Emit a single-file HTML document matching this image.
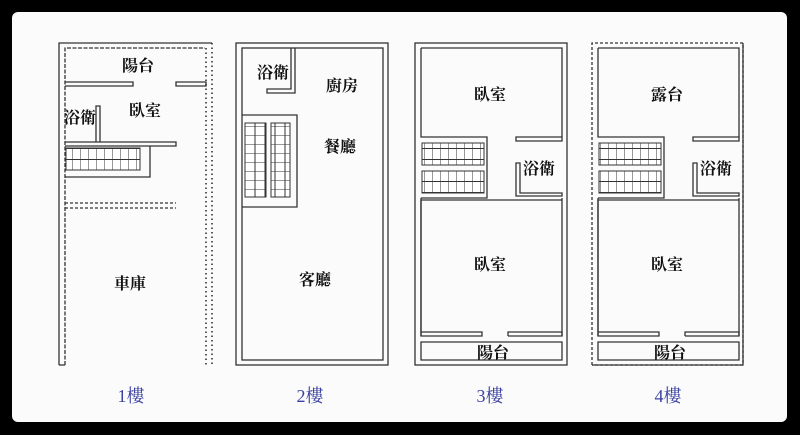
<!DOCTYPE html>
<html><head><meta charset="utf-8"><style>
html,body{margin:0;padding:0;background:#000;}
body{width:800px;height:435px;overflow:hidden;position:relative;}
svg{position:absolute;left:0;top:0}
text{font-family:"Liberation Serif","Noto Serif CJK SC","Noto Sans CJK TC",serif;font-size:16px;font-weight:bold;fill:#111;text-anchor:middle;}
.fl{fill:#3b41a0;font-size:18px;font-weight:normal}
</style></head><body>
<svg width="800" height="435" viewBox="0 0 800 435">
<defs>
<pattern id="sh" width="8" height="11" patternUnits="userSpaceOnUse"><rect width="8" height="11" fill="#fff"/><path d="M0 0V11M0 5.5H8" stroke="#333" stroke-width="1"/></pattern>
<pattern id="sv" width="10" height="9" patternUnits="userSpaceOnUse"><rect width="10" height="9" fill="#fff"/><path d="M0 0H10M5 0V9" stroke="#333" stroke-width="1"/></pattern>
</defs>
<rect x="12" y="12" width="775" height="410" rx="6" fill="#fbfbfb"/>
<g fill="none" stroke="#333" stroke-width="1.3">
<!-- Plan 1 -->
<path d="M59 365V43H212" />
<path d="M59 365H65" />
<path d="M65 365V48H205" stroke-dasharray="4 1.5"/>
<path d="M206 48V365M212 43V365" stroke-dasharray="1.5 3" stroke-width="1.6"/>
<path d="M65 82H133V86H65M176 82H206V86H176Z"/>
<path d="M96 142V106H100V142"/>
<path d="M65 142H176V146H65"/>
<path d="M150 146V177H65"/>
<path d="M65 203H176M65 208H176" stroke-dasharray="3 2"/>
<!-- Plan 2 -->
<rect x="236" y="43" width="152" height="322"/>
<rect x="242" y="48" width="141" height="312"/>
<path d="M295 48V93H267V89H291V48"/>
<path d="M242 115H297V207H242"/>
<!-- Plan 3 -->
<rect x="415" y="43" width="152" height="322"/>
<path d="M421 48H562V137M421 48V137H487V198H421M562 198V336M421 198V336"/>
<path d="M516 137H562V141H516Z"/>
<path d="M520 193V163H516V196H562V193Z"/>
<path d="M421 200H562M421 200V336H482V332H421M508 336H562V332H508V336"/>
<path d="M421 342H562V360H421Z"/>
<!-- Plan 4 -->
<path d="M592 365V43H743V365H592" stroke-dasharray="3 2"/>
<path d="M743 43V365H592"/>
<path d="M598 48H739V137M598 48V137H664V198H598M739 198V336M598 198V336" />
<path d="M693 137H739V141H693Z"/>
<path d="M697 193V163H693V196H739V193Z"/>
<path d="M598 200H739M598 200V336H659V332H598M685 336H739V332H685V336"/>
<path d="M598 342H739V360H598Z"/>
</g>
<g stroke="#333" stroke-width="1">
<rect x="66" y="148" width="74" height="22" fill="url(#sh)"/>
<rect x="245" y="123" width="21" height="74" fill="url(#sv)"/>
<rect x="271" y="123" width="19" height="74" fill="url(#sv)"/>
<rect x="422" y="143" width="62" height="22" fill="url(#sh)"/>
<rect x="422" y="171" width="62" height="22" fill="url(#sh)"/>
<rect x="599" y="143" width="62" height="22" fill="url(#sh)"/>
<rect x="599" y="171" width="62" height="22" fill="url(#sh)"/>
</g>
<text x="138" y="71">陽台</text>
<text x="145" y="116">臥室</text>
<text x="80" y="123">浴衛</text>
<text x="130" y="289">車庫</text>
<text x="273" y="78">浴衛</text>
<text x="342" y="91">廚房</text>
<text x="340" y="152">餐廳</text>
<text x="315" y="285">客廳</text>
<text x="490" y="100">臥室</text>
<text x="539" y="174">浴衛</text>
<text x="490" y="270">臥室</text>
<text x="493" y="358">陽台</text>
<text x="667" y="100">露台</text>
<text x="716" y="174">浴衛</text>
<text x="667" y="270">臥室</text>
<text x="670" y="358">陽台</text>
<text class="fl" x="131" y="402">1樓</text>
<text class="fl" x="310" y="402">2樓</text>
<text class="fl" x="490" y="402">3樓</text>
<text class="fl" x="668" y="402">4樓</text>
</svg>
</body></html>
